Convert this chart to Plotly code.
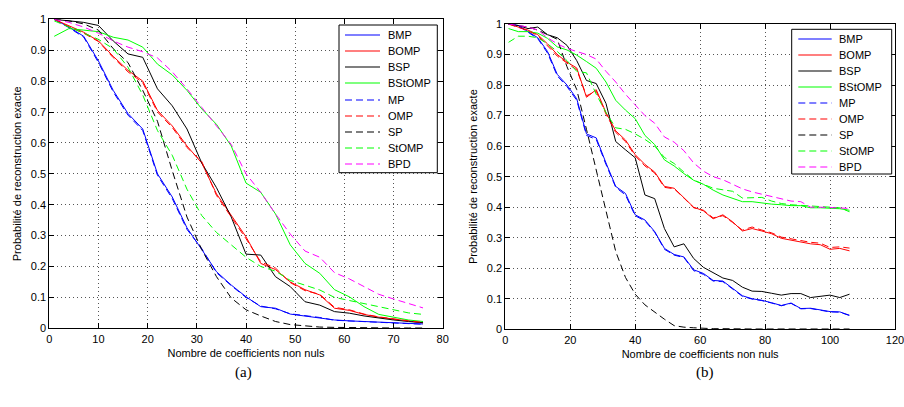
import plotly.graph_objects as go

# ---------------- data ----------------
names = ["BMP", "BOMP", "BSP", "BStOMP", "MP", "OMP", "SP", "StOMP", "BPD"]
colors = ["#0000ff", "#ff0000", "#000000", "#00ff00", "#0000ff", "#ff0000", "#000000", "#00ff00", "#ff00ff"]
dashes = ["solid", "solid", "solid", "solid", "7px,4px", "7px,4px", "7px,4px", "7px,4px", "7px,4px"]

x_a = [1, 4, 7, 10, 13, 16, 19, 22, 25, 28, 31, 34, 37, 40, 43, 46, 49, 52, 55, 58, 61, 64, 67, 70, 73, 76]
a_BMP = [1.0, 0.975, 0.945, 0.865, 0.77, 0.695, 0.645, 0.50, 0.425, 0.325, 0.255, 0.183, 0.14, 0.102, 0.07, 0.065, 0.046, 0.04, 0.034, 0.027, 0.024, 0.022, 0.02, 0.018, 0.016, 0.014]
a_BOMP = [1.0, 0.978, 0.958, 0.93, 0.88, 0.835, 0.80, 0.705, 0.655, 0.59, 0.535, 0.435, 0.365, 0.296, 0.21, 0.19, 0.15, 0.125, 0.108, 0.065, 0.058, 0.045, 0.036, 0.03, 0.025, 0.018]
a_BSP = [1.0, 0.995, 0.99, 0.98, 0.93, 0.888, 0.877, 0.775, 0.72, 0.645, 0.535, 0.455, 0.36, 0.24, 0.237, 0.167, 0.135, 0.086, 0.075, 0.054, 0.049, 0.04, 0.033, 0.027, 0.022, 0.018]
a_BStOMP = [0.945, 0.97, 0.965, 0.96, 0.942, 0.933, 0.91, 0.855, 0.82, 0.77, 0.71, 0.66, 0.59, 0.47, 0.44, 0.37, 0.27, 0.21, 0.178, 0.125, 0.102, 0.07, 0.045, 0.035, 0.027, 0.022]
a_MP = [1.0, 0.973, 0.942, 0.86, 0.765, 0.69, 0.64, 0.495, 0.42, 0.32, 0.258, 0.18, 0.138, 0.1, 0.072, 0.063, 0.047, 0.041, 0.035, 0.026, 0.024, 0.021, 0.019, 0.017, 0.015, 0.013]
a_OMP = [1.0, 0.976, 0.955, 0.928, 0.876, 0.83, 0.795, 0.70, 0.65, 0.585, 0.54, 0.43, 0.36, 0.29, 0.215, 0.195, 0.148, 0.122, 0.11, 0.068, 0.06, 0.046, 0.037, 0.03, 0.024, 0.019]
a_SP = [1.0, 0.995, 0.985, 0.965, 0.905, 0.86, 0.77, 0.67, 0.51, 0.36, 0.255, 0.167, 0.098, 0.06, 0.04, 0.022, 0.012, 0.007, 0.004, 0.003, 0.002, 0.002, 0.001, 0.001, 0.001, 0.001]
a_StOMP = [0.995, 0.975, 0.955, 0.935, 0.905, 0.845, 0.755, 0.64, 0.56, 0.45, 0.365, 0.31, 0.27, 0.23, 0.20, 0.185, 0.155, 0.14, 0.124, 0.10, 0.09, 0.08, 0.07, 0.06, 0.05, 0.045]
a_BPD = [1.0, 0.99, 0.975, 0.955, 0.93, 0.91, 0.895, 0.875, 0.83, 0.775, 0.715, 0.655, 0.595, 0.50, 0.44, 0.37, 0.305, 0.25, 0.23, 0.18, 0.16, 0.135, 0.11, 0.095, 0.08, 0.066]

x_b = [1, 4, 7, 10, 13, 16, 19, 22, 25, 28, 31, 34, 37, 40, 43, 46, 49, 52, 55, 58, 61, 64, 67, 70, 73, 76, 79, 82, 85, 88, 91, 94, 97, 100, 103, 106]
b_BMP = [1.0, 0.995, 0.975, 0.955, 0.91, 0.835, 0.80, 0.755, 0.64, 0.627, 0.545, 0.468, 0.445, 0.375, 0.358, 0.32, 0.265, 0.245, 0.237, 0.195, 0.183, 0.16, 0.158, 0.135, 0.11, 0.1, 0.095, 0.087, 0.078, 0.086, 0.068, 0.069, 0.063, 0.058, 0.057, 0.046]
b_BOMP = [1.0, 0.99, 0.98, 0.965, 0.935, 0.9, 0.875, 0.856, 0.76, 0.785, 0.71, 0.65, 0.62, 0.572, 0.54, 0.515, 0.468, 0.462, 0.432, 0.40, 0.388, 0.362, 0.375, 0.352, 0.322, 0.33, 0.322, 0.313, 0.298, 0.292, 0.288, 0.28, 0.277, 0.262, 0.265, 0.257]
b_BSP = [1.0, 0.995, 0.985, 0.99, 0.965, 0.955, 0.93, 0.88, 0.815, 0.805, 0.74, 0.615, 0.588, 0.562, 0.44, 0.428, 0.33, 0.27, 0.28, 0.232, 0.203, 0.185, 0.168, 0.16, 0.138, 0.125, 0.124, 0.118, 0.112, 0.117, 0.117, 0.104, 0.107, 0.112, 0.104, 0.115]
b_BStOMP = [0.985, 0.975, 0.975, 0.97, 0.953, 0.925, 0.915, 0.898, 0.877, 0.855, 0.81, 0.75, 0.718, 0.69, 0.635, 0.605, 0.555, 0.535, 0.51, 0.488, 0.475, 0.456, 0.44, 0.43, 0.418, 0.418, 0.413, 0.41, 0.408, 0.405, 0.405, 0.398, 0.398, 0.396, 0.395, 0.39]
b_MP = [1.0, 0.995, 0.973, 0.952, 0.905, 0.83, 0.795, 0.75, 0.635, 0.622, 0.54, 0.465, 0.44, 0.372, 0.355, 0.318, 0.262, 0.243, 0.235, 0.192, 0.18, 0.158, 0.156, 0.133, 0.108, 0.099, 0.094, 0.086, 0.077, 0.085, 0.067, 0.068, 0.062, 0.057, 0.056, 0.045]
b_OMP = [1.0, 0.99, 0.978, 0.962, 0.93, 0.895, 0.872, 0.85, 0.765, 0.78, 0.705, 0.645, 0.615, 0.568, 0.535, 0.512, 0.465, 0.46, 0.43, 0.398, 0.39, 0.365, 0.372, 0.35, 0.325, 0.335, 0.325, 0.316, 0.302, 0.296, 0.292, 0.285, 0.282, 0.268, 0.27, 0.266]
b_SP = [1.0, 0.995, 0.99, 0.98, 0.965, 0.95, 0.86, 0.785, 0.655, 0.52, 0.39, 0.255, 0.17, 0.115, 0.08, 0.055, 0.033, 0.012, 0.007, 0.005, 0.003, 0.002, 0.002, 0.001, 0.001, 0.001, 0.001, 0.001, 0.001, 0.001, 0.001, 0.001, 0.001, 0.001, 0.001, 0.001]
b_StOMP = [0.94, 0.96, 0.96, 0.955, 0.935, 0.91, 0.88, 0.845, 0.84, 0.77, 0.71, 0.66, 0.655, 0.64, 0.622, 0.6, 0.563, 0.543, 0.515, 0.489, 0.475, 0.462, 0.457, 0.452, 0.43, 0.432, 0.432, 0.42, 0.412, 0.408, 0.406, 0.402, 0.4, 0.4, 0.398, 0.385]
b_BPD = [1.0, 0.995, 0.99, 0.98, 0.955, 0.935, 0.92, 0.91, 0.9, 0.885, 0.845, 0.81, 0.77, 0.735, 0.70, 0.675, 0.63, 0.613, 0.585, 0.545, 0.518, 0.5, 0.49, 0.475, 0.46, 0.45, 0.442, 0.435, 0.427, 0.42, 0.418, 0.4, 0.4, 0.398, 0.398, 0.396]

series_a = [a_BMP, a_BOMP, a_BSP, a_BStOMP, a_MP, a_OMP, a_SP, a_StOMP, a_BPD]
series_b = [b_BMP, b_BOMP, b_BSP, b_BStOMP, b_MP, b_OMP, b_SP, b_StOMP, b_BPD]

x_title = "Nombre de coefficients non nuls"
y_title = "Probabilité de reconstruction exacte"
panel_labels = ["(a)", "(b)"]

# ---------------- figure ----------------
W, H = 904, 407
def px(x):
    return x / W
def py(y):
    return 1 - y / H

FONT = "Liberation Sans, Arial, sans-serif"
fig = go.Figure()

for xs, series, xa, ya in [(x_a, series_a, "x", "y"), (x_b, series_b, "x2", "y2")]:
    for name, ys, col, dsh in zip(names, series, colors, dashes):
        fig.add_trace(go.Scatter(x=xs, y=ys, mode="lines", name=name,
                                 line=dict(color=col, width=1, dash=dsh),
                                 xaxis=xa, yaxis=ya, showlegend=False))

axis_common = dict(showline=True, linecolor="black", linewidth=1, mirror="ticks",
                   ticks="inside", ticklen=5, tickcolor="black", tickwidth=1,
                   showgrid=True, gridcolor="#555555", gridwidth=1, griddash="1px,3px",
                   zeroline=False, automargin=False, ticklabeloverflow="allow",
                   tickfont=dict(family=FONT, size=11, color="black"))

fig.update_layout(
    width=W, height=H, margin=dict(l=0, r=0, t=0, b=0, autoexpand=False),
    paper_bgcolor="white", plot_bgcolor="white", showlegend=False,
    xaxis=dict(domain=[px(49.3), px(442.7)], range=[0, 80], dtick=10, anchor="y",
               title=dict(text=x_title, font=dict(family=FONT, size=11, color="black"), standoff=5),
               **axis_common),
    yaxis=dict(domain=[py(328.3), py(19.3)], range=[0, 1], dtick=0.1, anchor="x",
               title=dict(text=y_title, font=dict(family=FONT, size=11, color="black"), standoff=6),
               **axis_common),
    xaxis2=dict(domain=[px(505.3), px(895)], range=[0, 120], dtick=20, anchor="y2",
                title=dict(text=x_title, font=dict(family=FONT, size=11, color="black"), standoff=5),
                **axis_common),
    yaxis2=dict(domain=[py(329.3), py(24)], range=[0, 1], dtick=0.1, anchor="x2",
                title=dict(text=y_title, font=dict(family=FONT, size=11, color="black"), standoff=6),
                **axis_common),
)

# ---------------- legends (drawn as boxes) ----------------
shapes = []
annotations = []
legend_specs = [
    # box left, top, right, bottom, line x0, x1, text x, first row y, row step
    (339, 25, 437.3, 172.7, 345, 380, 386, 35.0, 16.15),
    (791.7, 29.3, 891.7, 174, 798.3, 831.7, 837, 39.3, 15.92),
]
for (bl, bt, br, bb, lx0, lx1, tx, y0, step) in legend_specs:
    shapes.append(dict(type="rect", xref="paper", yref="paper", x0=px(bl), x1=px(br),
                       y0=py(bb), y1=py(bt), fillcolor="white",
                       line=dict(color="black", width=1), layer="above"))
    for i, (name, col, dsh) in enumerate(zip(names, colors, dashes)):
        yy = y0 + i * step
        yl = float(round(yy))
        shapes.append(dict(type="line", xref="paper", yref="paper", x0=px(lx0), x1=px(lx1),
                           y0=py(yl), y1=py(yl), line=dict(color=col, width=1.2, dash=dsh),
                           layer="above"))
        annotations.append(dict(text=name, xref="paper", yref="paper", x=px(tx), y=py(yy),
                                xanchor="left", yanchor="middle", showarrow=False,
                                font=dict(family=FONT, size=11, color="black")))

for lab, cx in zip(panel_labels, [243, 705]):
    annotations.append(dict(text=lab, xref="paper", yref="paper", x=px(cx), y=py(372),
                            xanchor="center", yanchor="middle", showarrow=False,
                            font=dict(family="Liberation Serif, serif", size=15, color="black")))

fig.update_layout(shapes=shapes, annotations=annotations)

fig.write_html("out.html", config={"displayModeBar": False},
               post_script="document.body.style.margin='0';")
